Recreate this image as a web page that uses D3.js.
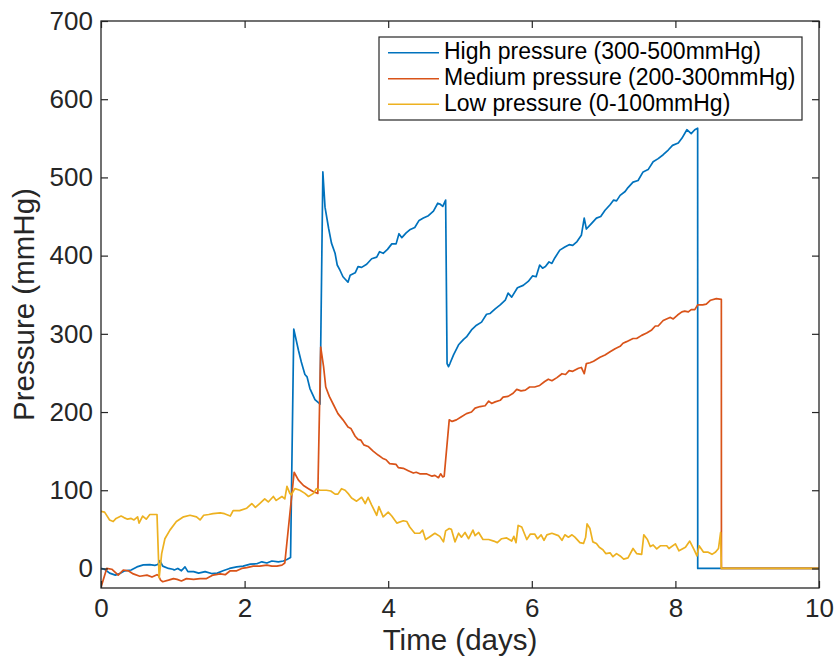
<!DOCTYPE html>
<html>
<head>
<meta charset="utf-8">
<script src="https://cdn.jsdelivr.net/npm/d3@7"></script>
<style>
  html, body { margin: 0; padding: 0; background: #fff; }
  svg { display: block; }
  text { font-family: "Liberation Sans", Arial, Helvetica, sans-serif; }
</style>
</head>
<body>
<svg id="chart" width="835" height="656"></svg>
<script>
// ---------- data: [time (days), pressure (mmHg)] ----------
const highPressure = [[0,0],[0.05,-1],[0.12,-6],[0.2,-8.5],[0.25,-7],[0.33,-3],[0.42,-2],[0.5,2],[0.59,4.5],[0.68,5],[0.75,4],[0.79,5],[0.82,10],[0.86,3],[0.94,0],[1.0,-1],[1.02,-2],[1.07,0],[1.12,-3],[1.17,2],[1.21,-4],[1.29,-4],[1.36,-6],[1.45,-4],[1.54,-6.5],[1.62,-6],[1.70,-3],[1.79,0],[1.89,2],[1.98,3],[2.08,5.5],[2.17,6],[2.24,8.5],[2.31,7],[2.38,9.5],[2.47,8.5],[2.54,9.5],[2.59,11.5],[2.64,14],[2.685,306],[2.75,279],[2.79,264],[2.84,248],[2.87,245],[2.91,230],[2.95,222],[2.98,216],[3.04,211],[3.05,210],[3.09,507],[3.12,462],[3.17,435],[3.21,416],[3.26,403],[3.29,388],[3.33,381],[3.37,373],[3.44,366],[3.47,375],[3.54,378],[3.58,386],[3.63,385],[3.70,389],[3.77,396],[3.84,398],[3.88,405],[3.93,403],[3.99,408],[4.05,415],[4.11,415],[4.15,428],[4.19,423],[4.25,429],[4.30,433],[4.37,436],[4.43,445],[4.49,448],[4.56,451],[4.63,457],[4.69,467],[4.72,466],[4.76,463],[4.80,471],[4.82,262],[4.84,258],[4.86,262],[4.91,273],[4.98,286],[5.05,293],[5.09,296],[5.16,305],[5.23,311],[5.30,315],[5.37,325],[5.42,326],[5.49,332],[5.56,337],[5.63,343],[5.67,352],[5.72,347],[5.80,359],[5.88,362],[5.95,367],[6.01,374],[6.06,373],[6.11,388],[6.15,384],[6.19,386],[6.24,392],[6.28,390],[6.32,397],[6.39,407],[6.46,411],[6.52,414],[6.57,413],[6.63,418],[6.69,426],[6.73,448],[6.76,434],[6.83,441],[6.90,448],[6.96,450],[7.02,458],[7.09,465],[7.14,471],[7.18,470],[7.23,477],[7.30,482],[7.34,487],[7.41,494],[7.48,496],[7.55,507],[7.62,510],[7.69,520],[7.76,524],[7.83,529],[7.90,535],[7.96,541],[8.04,544],[8.09,550],[8.16,561],[8.22,556],[8.27,561],[8.31,563],[8.311,0],[10,0]];

const mediumPressure = [[0,-24],[0.08,0],[0.15,-1],[0.24,-8.5],[0.31,-2],[0.38,-3],[0.45,-7],[0.54,-10],[0.64,-8.5],[0.71,-11],[0.78,-8],[0.80,-9],[0.83,-15],[0.86,-17],[0.94,-15],[1.01,-13],[1.06,-14],[1.12,-16],[1.19,-13],[1.29,-14],[1.38,-13],[1.47,-13],[1.56,-8.5],[1.66,-7],[1.73,-8],[1.80,-3],[1.89,-3],[1.96,0],[2.03,1],[2.12,3],[2.21,3],[2.31,4.3],[2.38,3],[2.45,3],[2.52,4.3],[2.56,7],[2.69,123],[2.75,113],[2.82,106],[2.89,102],[2.96,98],[3.02,96],[3.06,283],[3.10,258],[3.13,232],[3.18,220],[3.24,209],[3.30,198],[3.37,190],[3.44,181],[3.48,179],[3.54,169],[3.58,165],[3.62,164],[3.66,158],[3.72,156],[3.79,150],[3.86,145],[3.92,141],[3.97,139],[4.02,134],[4.11,133],[4.14,129],[4.21,128],[4.28,125],[4.35,122],[4.39,123],[4.44,121],[4.53,121],[4.61,118],[4.65,119],[4.70,116],[4.73,121],[4.76,117],[4.78,118],[4.85,190],[4.89,188],[4.95,190],[5.02,194],[5.09,198],[5.16,200],[5.21,205],[5.28,207],[5.35,208],[5.40,214],[5.44,211],[5.49,213],[5.56,215],[5.60,219],[5.67,220],[5.74,224],[5.79,229],[5.85,227],[5.91,228],[5.97,232],[6.04,232],[6.11,234],[6.18,239],[6.23,242],[6.28,240],[6.35,244],[6.42,249],[6.47,248],[6.52,253],[6.57,252],[6.65,256],[6.69,257],[6.73,249],[6.76,262],[6.81,263],[6.86,265],[6.95,270],[7.02,273],[7.09,277],[7.16,281],[7.23,284],[7.27,288],[7.32,290],[7.41,294],[7.46,294],[7.53,298],[7.60,301],[7.67,305],[7.72,310],[7.76,310],[7.83,317],[7.90,320],[7.93,321],[7.97,319],[8.03,324],[8.09,328],[8.13,329],[8.18,328],[8.22,331],[8.27,331],[8.31,337],[8.38,337],[8.43,338],[8.49,343],[8.57,345],[8.64,344],[8.641,0],[10,0]];

const lowPressure = [[0,73],[0.05,72],[0.12,62],[0.17,60],[0.21,64],[0.28,67],[0.32,65],[0.37,63],[0.42,64],[0.46,62],[0.51,66],[0.53,58],[0.58,67],[0.63,63],[0.68,69],[0.78,69],[0.81,-12],[0.845,19],[0.89,38],[0.96,49],[1.05,60],[1.15,66],[1.24,68],[1.33,66],[1.38,62],[1.43,68],[1.50,69],[1.56,70],[1.66,71],[1.72,70],[1.80,67],[1.84,74],[1.93,74],[2.03,77],[2.10,83],[2.15,78],[2.21,83],[2.28,89],[2.33,85],[2.40,92],[2.44,87],[2.52,92],[2.56,89],[2.59,105],[2.63,96],[2.65,94],[2.70,102],[2.77,100],[2.84,96],[2.89,92],[2.96,96],[3.0,102],[3.05,100],[3.14,100],[3.20,99],[3.26,95],[3.30,95],[3.35,102],[3.40,100],[3.45,95],[3.49,90],[3.56,86],[3.63,91],[3.68,83],[3.72,91],[3.77,81],[3.84,68],[3.87,79],[3.93,66],[4.0,72],[4.05,67],[4.12,58],[4.21,61],[4.26,60],[4.30,53],[4.37,45],[4.44,45],[4.48,49],[4.52,37],[4.57,40],[4.65,45],[4.72,41],[4.77,34],[4.80,48],[4.85,51],[4.88,50],[4.93,34],[4.98,45],[5.02,40],[5.07,46],[5.12,38],[5.18,49],[5.21,42],[5.26,46],[5.32,37],[5.40,37],[5.47,35],[5.52,33],[5.58,38],[5.65,39],[5.72,35],[5.75,41],[5.78,33],[5.81,55],[5.86,53],[5.93,37],[5.98,44],[6.04,44],[6.08,38],[6.13,43],[6.17,36],[6.21,43],[6.28,45],[6.37,42],[6.42,36],[6.46,43],[6.51,40],[6.56,43],[6.60,40],[6.67,33],[6.72,32],[6.75,40],[6.77,57],[6.81,51],[6.85,34],[6.90,32],[6.94,27],[6.99,24],[7.03,19],[7.09,20],[7.13,15],[7.18,19],[7.23,16],[7.28,12],[7.34,13.5],[7.41,25.5],[7.46,19],[7.53,18],[7.56,43],[7.61,37],[7.65,28],[7.69,30],[7.74,25],[7.79,29],[7.88,29],[7.91,25.5],[8.0,31.5],[8.05,22.5],[8.14,27],[8.20,35],[8.26,24],[8.30,16],[8.33,29],[8.39,21],[8.45,21],[8.51,18],[8.56,21],[8.60,25.5],[8.63,46],[8.64,0],[10,0]];

const seriesNames = ["High pressure (300-500mmHg)", "Medium pressure (200-300mmHg)", "Low pressure (0-100mmHg)"];
const seriesColors = ["#0072BD", "#D95319", "#EDB120"];
const xTicks = [0, 2, 4, 6, 8, 10];
const yTicks = [0, 100, 200, 300, 400, 500, 600, 700];
const xDomain = [0, 10];
const yDomain = [-25, 700];
const xTitle = "Time (days)";
const yTitle = "Pressure (mmHg)";

// ---------- layout ----------
const L = 101, R = 819, T = 21, B = 588;
const axisColor = "#262626";
const svg = d3.select("#chart");

const x = d3.scaleLinear().domain(xDomain).range([L, R]);
const y = d3.scaleLinear().domain(yDomain).range([B, T]);

svg.append("defs").append("clipPath").attr("id", "plotclip")
  .append("rect").attr("x", L).attr("y", T).attr("width", R - L).attr("height", B - T);

// data lines
const line = d3.line().x(d => x(d[0])).y(d => y(d[1]));
const allSeries = [highPressure, mediumPressure, lowPressure];
const plot = svg.append("g").attr("clip-path", "url(#plotclip)");
allSeries.forEach((s, i) => {
  plot.append("path").datum(s)
    .attr("d", line)
    .attr("fill", "none")
    .attr("stroke", seriesColors[i])
    .attr("stroke-width", 1.7)
    .attr("stroke-linejoin", "round");
});

// axes (ticks inward, MATLAB style)
function styleAxis(g) {
  g.select(".domain").remove();
  g.selectAll(".tick line").attr("stroke", axisColor).attr("stroke-width", 1.2);
  g.selectAll(".tick text").attr("fill", axisColor).style("font-size", "26px");
}
svg.append("g").attr("transform", `translate(0,${B})`)
  .call(d3.axisBottom(x).tickValues(xTicks).tickFormat(d3.format("d")).tickSizeInner(-7).tickSizeOuter(0).tickPadding(11))
  .call(styleAxis);
svg.append("g").attr("transform", `translate(0,${T})`)
  .call(d3.axisTop(x).tickValues(xTicks).tickFormat("").tickSizeInner(-7).tickSizeOuter(0))
  .call(styleAxis);
svg.append("g").attr("transform", `translate(${L},0)`)
  .call(d3.axisLeft(y).tickValues(yTicks).tickFormat(d3.format("d")).tickSizeInner(-7).tickSizeOuter(0).tickPadding(8))
  .call(styleAxis);
svg.append("g").attr("transform", `translate(${R},0)`)
  .call(d3.axisRight(y).tickValues(yTicks).tickFormat("").tickSizeInner(-7).tickSizeOuter(0))
  .call(styleAxis);

// box
svg.append("rect").attr("x", L).attr("y", T).attr("width", R - L).attr("height", B - T)
  .attr("fill", "none").attr("stroke", axisColor).attr("stroke-width", 1.3);

// axis titles
svg.append("text").attr("x", (L + R) / 2).attr("y", 650)
  .attr("text-anchor", "middle").attr("fill", axisColor)
  .style("font-size", "29.5px").text(xTitle);
svg.append("text").attr("transform", `translate(34,${(T + B) / 2}) rotate(-90)`)
  .attr("text-anchor", "middle").attr("fill", axisColor)
  .style("font-size", "29.5px").text(yTitle);

// legend
const lg = svg.append("g");
lg.append("rect").attr("x", 379).attr("y", 37).attr("width", 423).attr("height", 83)
  .attr("fill", "#fff").attr("stroke", axisColor).attr("stroke-width", 1.2);
const rowY = [52.7, 78.7, 104.3];
seriesNames.forEach((name, i) => {
  lg.append("line").attr("x1", 388).attr("x2", 439).attr("y1", rowY[i]).attr("y2", rowY[i])
    .attr("stroke", seriesColors[i]).attr("stroke-width", 1.6);
  lg.append("text").attr("x", 444).attr("y", rowY[i] + 6.6)
    .attr("fill", "#000").style("font-size", "23px").text(name);
});
</script>
</body>
</html>
